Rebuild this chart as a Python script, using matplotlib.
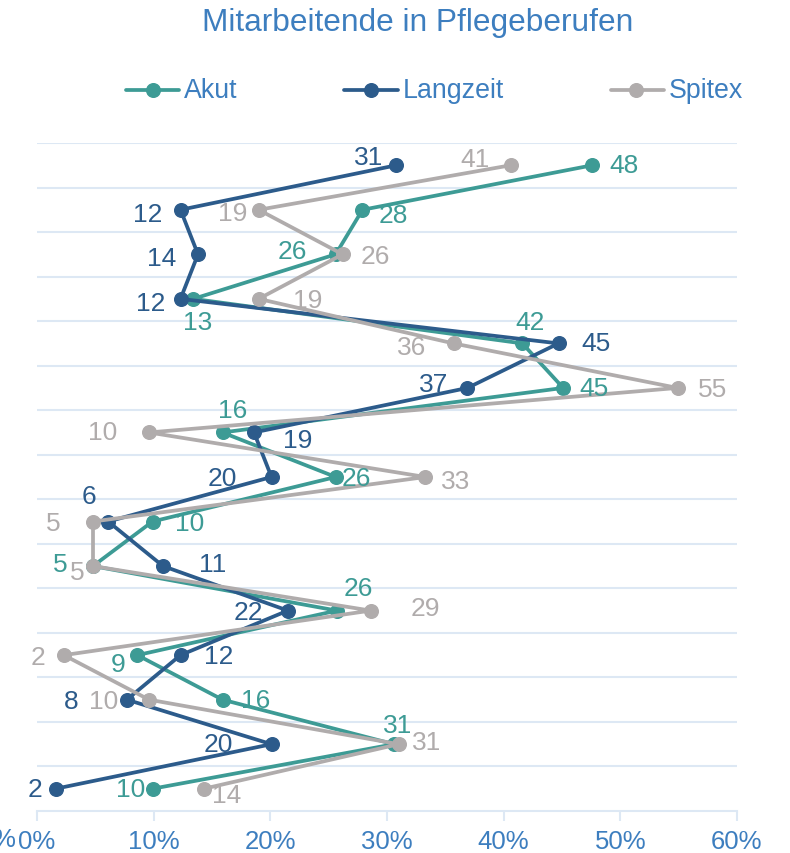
import matplotlib
matplotlib.use("Agg")
import matplotlib.pyplot as plt
from matplotlib.lines import Line2D
import numpy as np

plt.rcParams['font.family'] = ['Liberation Sans', 'DejaVu Sans']

# ---- data (percent values, top row first) ----
series_names = ["Akut", "Langzeit", "Spitex"]
akut = [47.6, 27.9, 25.6, 13.4, 41.6, 45.1, 15.9, 25.6, 9.9, 4.8, 25.7, 8.6, 15.9, 30.6, 9.9]
langzeit = [30.8, 12.3, 13.8, 12.3, 44.7, 36.9, 18.6, 20.1, 6.1, 10.8, 21.5, 12.3, 7.7, 20.1, 1.6]
spitex = [40.6, 19.0, 26.2, 19.0, 35.7, 54.9, 9.6, 33.3, 4.8, 4.8, 28.6, 2.3, 9.6, 31.0, 14.3]
x_ticks = [0, 10, 20, 30, 40, 50, 60]
x_tick_labels = ["0%", "10%", "20%", "30%", "40%", "50%", "60%"]
title = "Mitarbeitende in Pflegeberufen"

# ---- style ----
colors = {"Akut": "#3d9b95", "Langzeit": "#2c5b8b", "Spitex": "#b0acac"}
text_blue = "#3d7ebf"
grid_col = "#dde8f4"

# label offsets in pixels (dx, dy up) per series and row
offsets = {
    "Akut": [(32, 0), (31, -5), (-43, 3), (4, -23), (8, 21), (31, 0), (10, 22), (21, -1),
             (37, -1), (-33, 2), (21, 23), (-19, -9), (33, 0), (4, 19), (-22, 0)],
    "Langzeit": [(-28, 8), (-33, -4), (-36, -4), (-30, -4), (38, 0), (-34, 4), (44, -8), (-49, -1),
                 (-19, 26), (50, 2), (-39, -1), (38, -1), (-56, -1), (-53, 0), (-21, 0)],
    "Spitex": [(-36, 6), (-26, -3), (33, -2), (49, -1), (-42, -4), (35, -1), (-46, 0), (30, -4),
               (-40, -1), (-16, -6), (55, 3), (-26, -2), (-45, -1), (28, 2), (23, -6)],
}

fig = plt.figure(figsize=(7.9, 8.54), dpi=100)
ax = fig.add_axes([37/790, 1-812/854, 700/790, 668/854])

rows = np.arange(len(akut))
data = {"Akut": akut, "Langzeit": langzeit, "Spitex": spitex}

for name in series_names:
    vals = data[name]
    ax.plot(vals, rows, color=colors[name], lw=2.7, marker="o", ms=9.8,
            solid_capstyle="round", zorder=3, clip_on=False)

for name in series_names:
    vals = data[name]
    for i, v in enumerate(vals):
        dx, dy = offsets[name][i]
        ax.annotate(f"{round(v):d}", (v, i), xytext=(dx, dy), textcoords="offset pixels",
                    ha="center", va="center", fontsize=19, color=colors[name], zorder=5)

ax.set_xlim(0, 60)
ax.set_ylim(len(akut) - 0.5, -0.5)
for k in range(len(akut)):
    ax.axhline(k - 0.5, color=grid_col, lw=1.5, zorder=1)

ax.set_xticks(x_ticks)
ax.set_xticklabels(x_tick_labels, fontsize=18.5, color=text_blue)
ax.set_yticks([])
for s in ["top", "right", "left"]:
    ax.spines[s].set_visible(False)
ax.spines["bottom"].set_color(grid_col)
ax.spines["bottom"].set_linewidth(1.5)
ax.tick_params(axis="x", colors=grid_col, length=7, width=1.5, pad=6, labelcolor=text_blue)

# clipped fragment at far left (as in the reference)
fig.text(15/790, 1-840/854, "%", ha="right", va="center", fontsize=18.5, color=text_blue)

# title
fig.text(418/790, 1-23/854, title, ha="center", va="center", fontsize=22.8, color=text_blue)

# legend
leg_y = 1 - 91/854
leg = [("Akut", 126, 179, 153, 184), ("Langzeit", 344, 398, 371, 403), ("Spitex", 611, 664, 636, 669)]
for name, x0, x1, xm, xt in leg:
    fig.add_artist(Line2D([x0/790, x1/790], [leg_y, leg_y], transform=fig.transFigure,
                          color=colors[name], lw=2.7, solid_capstyle="round"))
    fig.add_artist(Line2D([xm/790], [leg_y], transform=fig.transFigure, marker="o", ms=9.8,
                          color=colors[name], lw=0))
    fig.text(xt/790, leg_y, name, ha="left", va="center", fontsize=19.3, color=text_blue)

fig.savefig("out.png", dpi=100)
